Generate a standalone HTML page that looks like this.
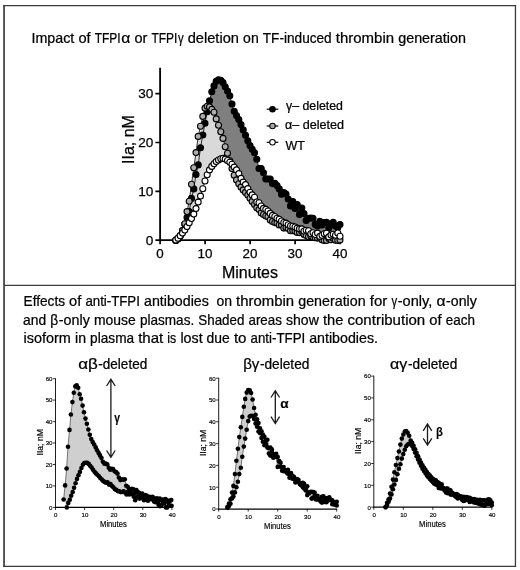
<!DOCTYPE html>
<html lang="en"><head><meta charset="utf-8"><title>TFPI thrombin generation</title>
<style>html,body{margin:0;padding:0;background:#fff}body{width:520px;height:570px;overflow:hidden}svg{display:block}text{font-family:"Liberation Sans",sans-serif;fill:#000}.c{font-family:"Liberation Sans","DejaVu Sans",sans-serif;stroke:#000;stroke-width:.24px}.t{stroke-width:.12px}.s{stroke:#000;stroke-width:.16px}.b{stroke:#000;stroke-width:.25px}</style></head><body>
<svg width="520" height="570" viewBox="0 0 520 570">
<rect x="0" y="0" width="520" height="570" fill="#fff"/>
<path d="M4.05 4.9V566.9" stroke="#505056" stroke-width="1.9" fill="none"/>
<path d="M3.2 5.5H516.1M4 285.45H515.5M3.2 566.25H516.1" stroke="#3a3a42" stroke-width="1.25" fill="none"/>
<path d="M515.45 4.9V566.9" stroke="#3a3a42" stroke-width="1.3" fill="none"/>
<text class="c" y="42.8" font-size="14.3"><tspan x="31.5" textLength="42.8" lengthAdjust="spacingAndGlyphs">Impact</tspan> <tspan x="78.4" textLength="12.2" lengthAdjust="spacingAndGlyphs">of</tspan> <tspan x="94.7" textLength="25.9" lengthAdjust="spacingAndGlyphs">TFPI</tspan><tspan x="121.2" textLength="9.1" lengthAdjust="spacingAndGlyphs">α</tspan> <tspan x="134.4" textLength="12.9" lengthAdjust="spacingAndGlyphs">or</tspan> <tspan x="151.4" textLength="25.9" lengthAdjust="spacingAndGlyphs">TFPI</tspan><tspan x="177.9" textLength="5.7" lengthAdjust="spacingAndGlyphs">γ</tspan> <tspan x="187.7" textLength="51.3" lengthAdjust="spacingAndGlyphs">deletion</tspan> <tspan x="243.1" textLength="15.6" lengthAdjust="spacingAndGlyphs">on</tspan> <tspan x="262.8" textLength="68.9" lengthAdjust="spacingAndGlyphs">TF-induced</tspan> <tspan x="335.8" textLength="58.3" lengthAdjust="spacingAndGlyphs">thrombin</tspan> <tspan x="398.2" textLength="67.8" lengthAdjust="spacingAndGlyphs">generation</tspan></text>
<polygon points="175.8,240.4 178.0,238.4 180.2,235.5 182.5,230.6 184.8,224.2 187.0,217.6 189.2,211.5 191.5,198.4 193.8,188.9 196.0,174.5 198.2,164.9 200.5,147.7 202.8,135.0 205.0,123.3 207.2,111.7 209.5,100.8 211.8,91.8 214.0,85.9 216.2,81.3 218.5,79.8 220.8,80.2 223.0,82.5 225.2,86.8 227.5,91.0 229.8,95.7 232.0,104.0 234.2,111.2 236.5,115.5 238.8,119.6 241.0,124.6 243.2,129.9 245.5,135.2 247.8,140.8 250.0,145.6 252.2,149.2 254.5,152.7 256.8,159.2 259.0,168.5 261.2,168.6 263.5,172.8 265.8,178.9 268.0,179.0 270.2,179.0 272.5,183.6 274.8,183.3 277.0,185.6 279.2,188.9 281.5,194.2 283.8,192.5 286.0,194.1 288.2,199.1 290.5,205.9 292.8,201.5 295.0,208.4 297.2,204.6 299.5,214.4 301.8,208.0 304.0,213.6 306.2,220.5 308.5,218.2 310.8,218.0 313.0,218.3 315.2,224.6 317.5,226.0 319.8,221.4 322.0,224.9 324.2,222.5 326.5,222.3 328.8,227.9 331.0,224.0 333.2,222.2 335.5,226.0 337.8,227.5 340.0,224.5 340.0,236.3 337.8,233.0 335.5,235.2 333.2,234.2 331.0,235.1 328.8,236.9 326.5,233.3 324.2,233.7 322.0,235.3 319.8,236.4 317.5,233.1 315.2,234.5 313.0,232.7 310.8,233.8 308.5,230.8 306.2,230.2 304.0,231.0 301.8,228.9 299.5,228.9 297.2,228.1 295.0,227.0 292.8,226.2 290.5,226.0 288.2,224.7 286.0,223.1 283.8,222.5 281.5,221.0 279.2,219.2 277.0,218.2 274.8,216.5 272.5,215.4 270.2,213.4 268.0,211.0 265.8,209.4 263.5,208.4 261.2,206.0 259.0,202.8 256.8,202.0 254.5,197.2 252.2,194.9 250.0,192.3 247.8,188.6 245.5,184.6 243.2,182.1 241.0,178.4 238.8,173.6 236.5,169.9 234.2,167.1 232.0,164.3 229.8,162.2 227.5,160.5 225.2,159.1 223.0,158.4 220.8,158.8 218.5,160.0 216.2,161.6 214.0,163.7 211.8,166.4 209.5,169.9 207.2,174.8 205.0,181.0 202.8,188.8 200.5,196.1 198.2,202.1 196.0,208.6 193.8,214.1 191.5,218.5 189.2,222.7 187.0,226.6 184.8,230.0 182.5,233.1 180.2,235.8 178.0,238.2 175.8,240.1" fill="#7f7f7f"/>
<polygon points="175.8,240.4 178.0,238.9 180.2,236.0 182.5,230.6 184.8,223.8 187.0,211.6 189.2,201.2 191.5,184.3 193.8,167.7 196.0,152.6 198.2,136.4 200.5,126.2 202.8,116.4 205.0,108.1 207.2,106.3 209.5,106.9 211.8,109.4 214.0,112.3 216.2,118.9 218.5,125.2 220.8,131.7 223.0,138.4 225.2,146.7 227.5,153.3 229.8,160.8 232.0,168.6 234.2,175.2 236.5,179.9 238.8,183.8 241.0,187.1 243.2,189.9 245.5,192.4 247.8,195.1 250.0,198.3 252.2,201.4 254.5,204.5 256.8,207.8 259.0,209.6 261.2,212.9 263.5,214.5 265.8,216.0 268.0,216.8 270.2,219.9 272.5,221.5 274.8,222.6 277.0,222.9 279.2,224.9 281.5,225.1 283.8,228.1 286.0,227.4 288.2,228.4 290.5,230.8 292.8,230.7 295.0,230.9 297.2,232.4 299.5,232.6 301.8,231.6 304.0,234.4 306.2,235.6 308.5,236.7 310.8,235.9 313.0,237.3 315.2,237.7 317.5,238.1 319.8,237.7 322.0,239.7 324.2,240.4 326.5,240.4 328.8,238.4 331.0,239.7 333.2,238.5 335.5,240.2 337.8,240.4 340.0,239.9 340.0,236.3 337.8,233.0 335.5,235.2 333.2,234.2 331.0,235.1 328.8,236.9 326.5,233.3 324.2,233.7 322.0,235.3 319.8,236.4 317.5,233.1 315.2,234.5 313.0,232.7 310.8,233.8 308.5,230.8 306.2,230.2 304.0,231.0 301.8,228.9 299.5,228.9 297.2,228.1 295.0,227.0 292.8,226.2 290.5,226.0 288.2,224.7 286.0,223.1 283.8,222.5 281.5,221.0 279.2,219.2 277.0,218.2 274.8,216.5 272.5,215.4 270.2,213.4 268.0,211.0 265.8,209.4 263.5,208.4 261.2,206.0 259.0,202.8 256.8,202.0 254.5,197.2 252.2,194.9 250.0,192.3 247.8,188.6 245.5,184.6 243.2,182.1 241.0,178.4 238.8,173.6 236.5,169.9 234.2,167.1 232.0,164.3 229.8,162.2 227.5,160.5 225.2,159.1 223.0,158.4 220.8,158.8 218.5,160.0 216.2,161.6 214.0,163.7 211.8,166.4 209.5,169.9 207.2,174.8 205.0,181.0 202.8,188.8 200.5,196.1 198.2,202.1 196.0,208.6 193.8,214.1 191.5,218.5 189.2,222.7 187.0,226.6 184.8,230.0 182.5,233.1 180.2,235.8 178.0,238.2 175.8,240.1" fill="#d9d9d9"/>
<path d="M160.1 67.7V240.1H340.8" fill="none" stroke="#000" stroke-width="1.8" stroke-linejoin="miter"/>
<path d="M155.4 240.1H160.2M155.4 191.3H160.2M155.4 142.5H160.2M155.4 93.7H160.2M160.1 240.1V244.3M205.1 240.1V244.3M250.1 240.1V244.3M295.1 240.1V244.3M340.1 240.1V244.3" stroke="#000" stroke-width="1.7" fill="none"/>
<text class="b" x="153.3" y="244.7" font-size="13.6" text-anchor="end">0</text>
<text class="b" x="153.3" y="195.9" font-size="13.6" text-anchor="end">10</text>
<text class="b" x="153.3" y="147.1" font-size="13.6" text-anchor="end">20</text>
<text class="b" x="153.3" y="98.3" font-size="13.6" text-anchor="end">30</text>
<text class="b" x="160.0" y="258.4" font-size="13.4" text-anchor="middle">0</text>
<text class="b" x="205.0" y="258.4" font-size="13.4" text-anchor="middle">10</text>
<text class="b" x="250.0" y="258.4" font-size="13.4" text-anchor="middle">20</text>
<text class="b" x="295.0" y="258.4" font-size="13.4" text-anchor="middle">30</text>
<text class="b" x="340.0" y="258.4" font-size="13.4" text-anchor="middle">40</text>
<text class="b" x="250" y="277.8" font-size="16" text-anchor="middle">Minutes</text>
<text class="b" transform="translate(133.6 139.5) rotate(-90)" font-size="16" text-anchor="middle">IIa; nM</text>
<polyline points="175.8,240.4 178.0,238.4 180.2,235.5 182.5,230.6 184.8,224.2 187.0,217.6 189.2,211.5 191.5,198.4 193.8,188.9 196.0,174.5 198.2,164.9 200.5,147.7 202.8,135.0 205.0,123.3 207.2,111.7 209.5,100.8 211.8,91.8 214.0,85.9 216.2,81.3 218.5,79.8 220.8,80.2 223.0,82.5 225.2,86.8 227.5,91.0 229.8,95.7 232.0,104.0 234.2,111.2 236.5,115.5 238.8,119.6 241.0,124.6 243.2,129.9 245.5,135.2 247.8,140.8 250.0,145.6 252.2,149.2 254.5,152.7 256.8,159.2 259.0,168.5 261.2,168.6 263.5,172.8 265.8,178.9 268.0,179.0 270.2,179.0 272.5,183.6 274.8,183.3 277.0,185.6 279.2,188.9 281.5,194.2 283.8,192.5 286.0,194.1 288.2,199.1 290.5,205.9 292.8,201.5 295.0,208.4 297.2,204.6 299.5,214.4 301.8,208.0 304.0,213.6 306.2,220.5 308.5,218.2 310.8,218.0 313.0,218.3 315.2,224.6 317.5,226.0 319.8,221.4 322.0,224.9 324.2,222.5 326.5,222.3 328.8,227.9 331.0,224.0 333.2,222.2 335.5,226.0 337.8,227.5 340.0,224.5" fill="none" stroke="#000" stroke-width="0.8"/>
<g fill="#000" stroke="#000" stroke-width="1.1"><circle cx="175.8" cy="240.4" r="3.0"/><circle cx="178.0" cy="238.4" r="3.0"/><circle cx="180.2" cy="235.5" r="3.0"/><circle cx="182.5" cy="230.6" r="3.0"/><circle cx="184.8" cy="224.2" r="3.0"/><circle cx="187.0" cy="217.6" r="3.0"/><circle cx="189.2" cy="211.5" r="3.0"/><circle cx="191.5" cy="198.4" r="3.0"/><circle cx="193.8" cy="188.9" r="3.0"/><circle cx="196.0" cy="174.5" r="3.0"/><circle cx="198.2" cy="164.9" r="3.0"/><circle cx="200.5" cy="147.7" r="3.0"/><circle cx="202.8" cy="135.0" r="3.0"/><circle cx="205.0" cy="123.3" r="3.0"/><circle cx="207.2" cy="111.7" r="3.0"/><circle cx="209.5" cy="100.8" r="3.0"/><circle cx="211.8" cy="91.8" r="3.0"/><circle cx="214.0" cy="85.9" r="3.0"/><circle cx="216.2" cy="81.3" r="3.0"/><circle cx="218.5" cy="79.8" r="3.0"/><circle cx="220.8" cy="80.2" r="3.0"/><circle cx="223.0" cy="82.5" r="3.0"/><circle cx="225.2" cy="86.8" r="3.0"/><circle cx="227.5" cy="91.0" r="3.0"/><circle cx="229.8" cy="95.7" r="3.0"/><circle cx="232.0" cy="104.0" r="3.0"/><circle cx="234.2" cy="111.2" r="3.0"/><circle cx="236.5" cy="115.5" r="3.0"/><circle cx="238.8" cy="119.6" r="3.0"/><circle cx="241.0" cy="124.6" r="3.0"/><circle cx="243.2" cy="129.9" r="3.0"/><circle cx="245.5" cy="135.2" r="3.0"/><circle cx="247.8" cy="140.8" r="3.0"/><circle cx="250.0" cy="145.6" r="3.0"/><circle cx="252.2" cy="149.2" r="3.0"/><circle cx="254.5" cy="152.7" r="3.0"/><circle cx="256.8" cy="159.2" r="3.0"/><circle cx="259.0" cy="168.5" r="3.0"/><circle cx="261.2" cy="168.6" r="3.0"/><circle cx="263.5" cy="172.8" r="3.0"/><circle cx="265.8" cy="178.9" r="3.0"/><circle cx="268.0" cy="179.0" r="3.0"/><circle cx="270.2" cy="179.0" r="3.0"/><circle cx="272.5" cy="183.6" r="3.0"/><circle cx="274.8" cy="183.3" r="3.0"/><circle cx="277.0" cy="185.6" r="3.0"/><circle cx="279.2" cy="188.9" r="3.0"/><circle cx="281.5" cy="194.2" r="3.0"/><circle cx="283.8" cy="192.5" r="3.0"/><circle cx="286.0" cy="194.1" r="3.0"/><circle cx="288.2" cy="199.1" r="3.0"/><circle cx="290.5" cy="205.9" r="3.0"/><circle cx="292.8" cy="201.5" r="3.0"/><circle cx="295.0" cy="208.4" r="3.0"/><circle cx="297.2" cy="204.6" r="3.0"/><circle cx="299.5" cy="214.4" r="3.0"/><circle cx="301.8" cy="208.0" r="3.0"/><circle cx="304.0" cy="213.6" r="3.0"/><circle cx="306.2" cy="220.5" r="3.0"/><circle cx="308.5" cy="218.2" r="3.0"/><circle cx="310.8" cy="218.0" r="3.0"/><circle cx="313.0" cy="218.3" r="3.0"/><circle cx="315.2" cy="224.6" r="3.0"/><circle cx="317.5" cy="226.0" r="3.0"/><circle cx="319.8" cy="221.4" r="3.0"/><circle cx="322.0" cy="224.9" r="3.0"/><circle cx="324.2" cy="222.5" r="3.0"/><circle cx="326.5" cy="222.3" r="3.0"/><circle cx="328.8" cy="227.9" r="3.0"/><circle cx="331.0" cy="224.0" r="3.0"/><circle cx="333.2" cy="222.2" r="3.0"/><circle cx="335.5" cy="226.0" r="3.0"/><circle cx="337.8" cy="227.5" r="3.0"/><circle cx="340.0" cy="224.5" r="3.0"/></g>
<polyline points="175.8,240.4 178.0,238.9 180.2,236.0 182.5,230.6 184.8,223.8 187.0,211.6 189.2,201.2 191.5,184.3 193.8,167.7 196.0,152.6 198.2,136.4 200.5,126.2 202.8,116.4 205.0,108.1 207.2,106.3 209.5,106.9 211.8,109.4 214.0,112.3 216.2,118.9 218.5,125.2 220.8,131.7 223.0,138.4 225.2,146.7 227.5,153.3 229.8,160.8 232.0,168.6 234.2,175.2 236.5,179.9 238.8,183.8 241.0,187.1 243.2,189.9 245.5,192.4 247.8,195.1 250.0,198.3 252.2,201.4 254.5,204.5 256.8,207.8 259.0,209.6 261.2,212.9 263.5,214.5 265.8,216.0 268.0,216.8 270.2,219.9 272.5,221.5 274.8,222.6 277.0,222.9 279.2,224.9 281.5,225.1 283.8,228.1 286.0,227.4 288.2,228.4 290.5,230.8 292.8,230.7 295.0,230.9 297.2,232.4 299.5,232.6 301.8,231.6 304.0,234.4 306.2,235.6 308.5,236.7 310.8,235.9 313.0,237.3 315.2,237.7 317.5,238.1 319.8,237.7 322.0,239.7 324.2,240.4 326.5,240.4 328.8,238.4 331.0,239.7 333.2,238.5 335.5,240.2 337.8,240.4 340.0,239.9" fill="none" stroke="#000" stroke-width="0.8"/>
<g fill="#adadad" stroke="#000" stroke-width="1.1"><circle cx="175.8" cy="240.4" r="3.0"/><circle cx="178.0" cy="238.9" r="3.0"/><circle cx="180.2" cy="236.0" r="3.0"/><circle cx="182.5" cy="230.6" r="3.0"/><circle cx="184.8" cy="223.8" r="3.0"/><circle cx="187.0" cy="211.6" r="3.0"/><circle cx="189.2" cy="201.2" r="3.0"/><circle cx="191.5" cy="184.3" r="3.0"/><circle cx="193.8" cy="167.7" r="3.0"/><circle cx="196.0" cy="152.6" r="3.0"/><circle cx="198.2" cy="136.4" r="3.0"/><circle cx="200.5" cy="126.2" r="3.0"/><circle cx="202.8" cy="116.4" r="3.0"/><circle cx="205.0" cy="108.1" r="3.0"/><circle cx="207.2" cy="106.3" r="3.0"/><circle cx="209.5" cy="106.9" r="3.0"/><circle cx="211.8" cy="109.4" r="3.0"/><circle cx="214.0" cy="112.3" r="3.0"/><circle cx="216.2" cy="118.9" r="3.0"/><circle cx="218.5" cy="125.2" r="3.0"/><circle cx="220.8" cy="131.7" r="3.0"/><circle cx="223.0" cy="138.4" r="3.0"/><circle cx="225.2" cy="146.7" r="3.0"/><circle cx="227.5" cy="153.3" r="3.0"/><circle cx="229.8" cy="160.8" r="3.0"/><circle cx="232.0" cy="168.6" r="3.0"/><circle cx="234.2" cy="175.2" r="3.0"/><circle cx="236.5" cy="179.9" r="3.0"/><circle cx="238.8" cy="183.8" r="3.0"/><circle cx="241.0" cy="187.1" r="3.0"/><circle cx="243.2" cy="189.9" r="3.0"/><circle cx="245.5" cy="192.4" r="3.0"/><circle cx="247.8" cy="195.1" r="3.0"/><circle cx="250.0" cy="198.3" r="3.0"/><circle cx="252.2" cy="201.4" r="3.0"/><circle cx="254.5" cy="204.5" r="3.0"/><circle cx="256.8" cy="207.8" r="3.0"/><circle cx="259.0" cy="209.6" r="3.0"/><circle cx="261.2" cy="212.9" r="3.0"/><circle cx="263.5" cy="214.5" r="3.0"/><circle cx="265.8" cy="216.0" r="3.0"/><circle cx="268.0" cy="216.8" r="3.0"/><circle cx="270.2" cy="219.9" r="3.0"/><circle cx="272.5" cy="221.5" r="3.0"/><circle cx="274.8" cy="222.6" r="3.0"/><circle cx="277.0" cy="222.9" r="3.0"/><circle cx="279.2" cy="224.9" r="3.0"/><circle cx="281.5" cy="225.1" r="3.0"/><circle cx="283.8" cy="228.1" r="3.0"/><circle cx="286.0" cy="227.4" r="3.0"/><circle cx="288.2" cy="228.4" r="3.0"/><circle cx="290.5" cy="230.8" r="3.0"/><circle cx="292.8" cy="230.7" r="3.0"/><circle cx="295.0" cy="230.9" r="3.0"/><circle cx="297.2" cy="232.4" r="3.0"/><circle cx="299.5" cy="232.6" r="3.0"/><circle cx="301.8" cy="231.6" r="3.0"/><circle cx="304.0" cy="234.4" r="3.0"/><circle cx="306.2" cy="235.6" r="3.0"/><circle cx="308.5" cy="236.7" r="3.0"/><circle cx="310.8" cy="235.9" r="3.0"/><circle cx="313.0" cy="237.3" r="3.0"/><circle cx="315.2" cy="237.7" r="3.0"/><circle cx="317.5" cy="238.1" r="3.0"/><circle cx="319.8" cy="237.7" r="3.0"/><circle cx="322.0" cy="239.7" r="3.0"/><circle cx="324.2" cy="240.4" r="3.0"/><circle cx="326.5" cy="240.4" r="3.0"/><circle cx="328.8" cy="238.4" r="3.0"/><circle cx="331.0" cy="239.7" r="3.0"/><circle cx="333.2" cy="238.5" r="3.0"/><circle cx="335.5" cy="240.2" r="3.0"/><circle cx="337.8" cy="240.4" r="3.0"/><circle cx="340.0" cy="239.9" r="3.0"/></g>
<polyline points="175.8,240.1 178.0,238.2 180.2,235.8 182.5,233.1 184.8,230.0 187.0,226.6 189.2,222.7 191.5,218.5 193.8,214.1 196.0,208.6 198.2,202.1 200.5,196.1 202.8,188.8 205.0,181.0 207.2,174.8 209.5,169.9 211.8,166.4 214.0,163.7 216.2,161.6 218.5,160.0 220.8,158.8 223.0,158.4 225.2,159.1 227.5,160.5 229.8,162.2 232.0,164.3 234.2,167.1 236.5,169.9 238.8,173.6 241.0,178.4 243.2,182.1 245.5,184.6 247.8,188.6 250.0,192.3 252.2,194.9 254.5,197.2 256.8,202.0 259.0,202.8 261.2,206.0 263.5,208.4 265.8,209.4 268.0,211.0 270.2,213.4 272.5,215.4 274.8,216.5 277.0,218.2 279.2,219.2 281.5,221.0 283.8,222.5 286.0,223.1 288.2,224.7 290.5,226.0 292.8,226.2 295.0,227.0 297.2,228.1 299.5,228.9 301.8,228.9 304.0,231.0 306.2,230.2 308.5,230.8 310.8,233.8 313.0,232.7 315.2,234.5 317.5,233.1 319.8,236.4 322.0,235.3 324.2,233.7 326.5,233.3 328.8,236.9 331.0,235.1 333.2,234.2 335.5,235.2 337.8,233.0 340.0,236.3" fill="none" stroke="#000" stroke-width="0.8"/>
<g fill="#fff" stroke="#000" stroke-width="1.1"><circle cx="175.8" cy="240.1" r="3.0"/><circle cx="178.0" cy="238.2" r="3.0"/><circle cx="180.2" cy="235.8" r="3.0"/><circle cx="182.5" cy="233.1" r="3.0"/><circle cx="184.8" cy="230.0" r="3.0"/><circle cx="187.0" cy="226.6" r="3.0"/><circle cx="189.2" cy="222.7" r="3.0"/><circle cx="191.5" cy="218.5" r="3.0"/><circle cx="193.8" cy="214.1" r="3.0"/><circle cx="196.0" cy="208.6" r="3.0"/><circle cx="198.2" cy="202.1" r="3.0"/><circle cx="200.5" cy="196.1" r="3.0"/><circle cx="202.8" cy="188.8" r="3.0"/><circle cx="205.0" cy="181.0" r="3.0"/><circle cx="207.2" cy="174.8" r="3.0"/><circle cx="209.5" cy="169.9" r="3.0"/><circle cx="211.8" cy="166.4" r="3.0"/><circle cx="214.0" cy="163.7" r="3.0"/><circle cx="216.2" cy="161.6" r="3.0"/><circle cx="218.5" cy="160.0" r="3.0"/><circle cx="220.8" cy="158.8" r="3.0"/><circle cx="223.0" cy="158.4" r="3.0"/><circle cx="225.2" cy="159.1" r="3.0"/><circle cx="227.5" cy="160.5" r="3.0"/><circle cx="229.8" cy="162.2" r="3.0"/><circle cx="232.0" cy="164.3" r="3.0"/><circle cx="234.2" cy="167.1" r="3.0"/><circle cx="236.5" cy="169.9" r="3.0"/><circle cx="238.8" cy="173.6" r="3.0"/><circle cx="241.0" cy="178.4" r="3.0"/><circle cx="243.2" cy="182.1" r="3.0"/><circle cx="245.5" cy="184.6" r="3.0"/><circle cx="247.8" cy="188.6" r="3.0"/><circle cx="250.0" cy="192.3" r="3.0"/><circle cx="252.2" cy="194.9" r="3.0"/><circle cx="254.5" cy="197.2" r="3.0"/><circle cx="256.8" cy="202.0" r="3.0"/><circle cx="259.0" cy="202.8" r="3.0"/><circle cx="261.2" cy="206.0" r="3.0"/><circle cx="263.5" cy="208.4" r="3.0"/><circle cx="265.8" cy="209.4" r="3.0"/><circle cx="268.0" cy="211.0" r="3.0"/><circle cx="270.2" cy="213.4" r="3.0"/><circle cx="272.5" cy="215.4" r="3.0"/><circle cx="274.8" cy="216.5" r="3.0"/><circle cx="277.0" cy="218.2" r="3.0"/><circle cx="279.2" cy="219.2" r="3.0"/><circle cx="281.5" cy="221.0" r="3.0"/><circle cx="283.8" cy="222.5" r="3.0"/><circle cx="286.0" cy="223.1" r="3.0"/><circle cx="288.2" cy="224.7" r="3.0"/><circle cx="290.5" cy="226.0" r="3.0"/><circle cx="292.8" cy="226.2" r="3.0"/><circle cx="295.0" cy="227.0" r="3.0"/><circle cx="297.2" cy="228.1" r="3.0"/><circle cx="299.5" cy="228.9" r="3.0"/><circle cx="301.8" cy="228.9" r="3.0"/><circle cx="304.0" cy="231.0" r="3.0"/><circle cx="306.2" cy="230.2" r="3.0"/><circle cx="308.5" cy="230.8" r="3.0"/><circle cx="310.8" cy="233.8" r="3.0"/><circle cx="313.0" cy="232.7" r="3.0"/><circle cx="315.2" cy="234.5" r="3.0"/><circle cx="317.5" cy="233.1" r="3.0"/><circle cx="319.8" cy="236.4" r="3.0"/><circle cx="322.0" cy="235.3" r="3.0"/><circle cx="324.2" cy="233.7" r="3.0"/><circle cx="326.5" cy="233.3" r="3.0"/><circle cx="328.8" cy="236.9" r="3.0"/><circle cx="331.0" cy="235.1" r="3.0"/><circle cx="333.2" cy="234.2" r="3.0"/><circle cx="335.5" cy="235.2" r="3.0"/><circle cx="337.8" cy="233.0" r="3.0"/><circle cx="340.0" cy="236.3" r="3.0"/></g>
<line x1="266.7" y1="109.2" x2="278.3" y2="109.2" stroke="#000" stroke-width="1.2"/>
<circle cx="272.5" cy="109.2" r="2.75" fill="#000" stroke="#000" stroke-width="1.1"/>
<line x1="266.7" y1="126" x2="278.3" y2="126" stroke="#000" stroke-width="1.2"/>
<circle cx="272.5" cy="126" r="2.75" fill="#a6a6a6" stroke="#000" stroke-width="1.1"/>
<line x1="266.7" y1="142.3" x2="278.3" y2="142.3" stroke="#000" stroke-width="1.2"/>
<circle cx="272.5" cy="142.3" r="2.75" fill="#fff" stroke="#000" stroke-width="1.1"/>
<text class="c" x="286" y="109.6" font-size="12" textLength="57" lengthAdjust="spacingAndGlyphs">γ– deleted</text>
<text class="c" x="285" y="129.4" font-size="12" textLength="59" lengthAdjust="spacingAndGlyphs">α– deleted</text>
<text class="c" x="285.4" y="149.6" font-size="12" textLength="19.4" lengthAdjust="spacingAndGlyphs">WT</text>
<text class="c" y="305.9" font-size="14.3"><tspan x="23.5" textLength="41.6" lengthAdjust="spacingAndGlyphs">Effects</tspan> <tspan x="69.1" textLength="12.2" lengthAdjust="spacingAndGlyphs">of</tspan> <tspan x="85.4" textLength="54.5" lengthAdjust="spacingAndGlyphs">anti-TFPI</tspan> <tspan x="144.0" textLength="64.9" lengthAdjust="spacingAndGlyphs">antibodies</tspan> <tspan x="216.5" textLength="15.6" lengthAdjust="spacingAndGlyphs">on</tspan> <tspan x="236.1" textLength="58.0" lengthAdjust="spacingAndGlyphs">thrombin</tspan> <tspan x="298.2" textLength="67.5" lengthAdjust="spacingAndGlyphs">generation</tspan> <tspan x="369.8" textLength="17.5" lengthAdjust="spacingAndGlyphs">for</tspan> <tspan x="391.4" textLength="5.7" lengthAdjust="spacingAndGlyphs">γ</tspan><tspan x="397.7" textLength="34.6" lengthAdjust="spacingAndGlyphs">-only,</tspan> <tspan x="436.4" textLength="9.1" lengthAdjust="spacingAndGlyphs">α</tspan><tspan x="446.1" textLength="30.7" lengthAdjust="spacingAndGlyphs">-only</tspan></text>
<text class="c" y="324.6" font-size="14.3"><tspan x="23.1" textLength="23.1" lengthAdjust="spacingAndGlyphs">and</tspan> <tspan x="50.3" textLength="7.9" lengthAdjust="spacingAndGlyphs">β</tspan><tspan x="58.8" textLength="31.0" lengthAdjust="spacingAndGlyphs">-only</tspan> <tspan x="93.9" textLength="41.8" lengthAdjust="spacingAndGlyphs">mouse</tspan> <tspan x="139.9" textLength="54.3" lengthAdjust="spacingAndGlyphs">plasmas.</tspan> <tspan x="198.3" textLength="46.1" lengthAdjust="spacingAndGlyphs">Shaded</tspan> <tspan x="248.5" textLength="33.4" lengthAdjust="spacingAndGlyphs">areas</tspan> <tspan x="286.0" textLength="32.8" lengthAdjust="spacingAndGlyphs">show</tspan> <tspan x="322.9" textLength="20.4" lengthAdjust="spacingAndGlyphs">the</tspan> <tspan x="347.5" textLength="77.7" lengthAdjust="spacingAndGlyphs">contribution</tspan> <tspan x="429.3" textLength="12.3" lengthAdjust="spacingAndGlyphs">of</tspan> <tspan x="445.7" textLength="29.2" lengthAdjust="spacingAndGlyphs">each</tspan></text>
<text class="c" y="343.1" font-size="14.3"><tspan x="23.5" textLength="47.4" lengthAdjust="spacingAndGlyphs">isoform</tspan> <tspan x="75.0" textLength="11.0" lengthAdjust="spacingAndGlyphs">in</tspan> <tspan x="90.1" textLength="44.0" lengthAdjust="spacingAndGlyphs">plasma</tspan> <tspan x="138.2" textLength="25.1" lengthAdjust="spacingAndGlyphs">that</tspan> <tspan x="167.3" textLength="8.9" lengthAdjust="spacingAndGlyphs">is</tspan> <tspan x="180.4" textLength="22.2" lengthAdjust="spacingAndGlyphs">lost</tspan> <tspan x="206.6" textLength="23.2" lengthAdjust="spacingAndGlyphs">due</tspan> <tspan x="233.9" textLength="12.6" lengthAdjust="spacingAndGlyphs">to</tspan> <tspan x="250.6" textLength="54.6" lengthAdjust="spacingAndGlyphs">anti-TFPI</tspan> <tspan x="309.2" textLength="68.8" lengthAdjust="spacingAndGlyphs">antibodies.</tspan></text>
<polygon points="63.6,499.5 65.1,485.4 66.6,468.5 68.0,446.8 69.5,429.9 70.9,414.5 72.4,402.1 73.8,392.7 75.3,386.4 76.7,385.3 78.2,387.8 79.7,394.2 81.1,398.7 82.6,405.6 84.0,412.2 85.5,418.6 86.9,423.8 88.4,429.5 89.8,434.8 91.3,439.1 92.7,442.1 94.2,444.5 95.7,447.4 97.1,450.3 98.6,452.9 100.0,455.4 101.5,458.1 102.9,461.8 104.4,463.8 105.8,463.6 107.3,464.4 108.8,467.7 110.2,469.7 111.7,468.9 113.1,469.0 114.6,471.2 116.0,472.1 117.5,473.6 118.9,477.5 120.4,480.1 121.8,479.3 123.3,479.7 124.8,479.3 126.2,485.8 127.7,486.7 129.1,488.7 130.6,491.7 132.0,488.9 133.5,489.2 134.9,493.1 136.4,490.0 137.9,492.0 139.3,493.1 140.8,494.1 142.2,493.5 143.7,498.6 145.1,495.1 146.6,495.6 148.0,500.8 149.5,496.9 150.9,498.5 152.4,496.7 153.9,499.4 155.3,498.9 156.8,498.4 158.2,501.2 159.7,498.6 161.1,500.3 162.6,499.5 164.0,501.9 165.5,499.0 167.0,500.3 168.4,502.2 169.9,500.9 171.3,500.0 171.6,505.7 170.2,505.7 168.7,505.6 167.2,507.4 165.8,507.4 164.3,503.2 162.9,503.1 161.4,505.2 160.0,506.2 158.5,504.7 157.1,501.5 155.6,502.3 154.1,501.6 152.7,497.3 151.2,499.2 149.8,498.7 148.3,498.4 146.9,496.9 145.4,497.2 144.0,500.2 142.5,496.9 141.1,497.5 139.6,498.6 138.1,496.3 136.7,497.6 135.2,500.2 133.8,496.7 132.3,494.2 130.9,493.6 129.4,494.4 128.0,491.9 126.5,494.4 125.0,492.6 123.6,491.3 122.1,492.0 120.7,492.1 119.2,491.3 117.8,491.1 116.3,489.9 114.9,489.3 113.4,487.3 112.0,486.1 110.5,484.1 109.0,484.6 107.6,482.2 106.1,482.7 104.7,481.9 103.2,481.1 101.8,479.5 100.3,478.1 98.9,476.3 97.4,474.7 95.9,473.4 94.5,471.8 93.0,469.8 91.6,467.5 90.1,465.7 88.7,463.9 87.2,462.9 85.8,462.7 84.3,463.0 82.9,464.8 81.4,468.0 79.9,471.9 78.5,475.2 77.0,478.9 75.6,483.2 74.1,487.8 72.7,492.1 71.2,495.8 69.8,499.7 68.3,502.9 66.8,507.4" fill="#cfcfcf"/>
<path d="M55.5 378.3V508.0" fill="none" stroke="#111" stroke-width="0.95"/>
<path d="M55.1 507.4H172.3" fill="none" stroke="#000" stroke-width="1.25"/>
<path d="M52.9 507.4H55.5M52.9 485.9H55.5M52.9 464.5H55.5M52.9 443.0H55.5M52.9 421.6H55.5M52.9 400.1H55.5M52.9 378.7H55.5M55.5 507.4V510.0M84.6 507.4V510.0M113.7 507.4V510.0M142.8 507.4V510.0M171.9 507.4V510.0" stroke="#000" stroke-width="0.8" fill="none"/>
<text class="s" x="52.5" y="509.7" font-size="6.1" text-anchor="end">0</text>
<text class="s" x="52.5" y="488.2" font-size="6.1" text-anchor="end">10</text>
<text class="s" x="52.5" y="466.8" font-size="6.1" text-anchor="end">20</text>
<text class="s" x="52.5" y="445.3" font-size="6.1" text-anchor="end">30</text>
<text class="s" x="52.5" y="423.9" font-size="6.1" text-anchor="end">40</text>
<text class="s" x="52.5" y="402.4" font-size="6.1" text-anchor="end">50</text>
<text class="s" x="52.5" y="381.0" font-size="6.1" text-anchor="end">60</text>
<text class="s" x="55.8" y="517.1" font-size="6.1" text-anchor="middle">0</text>
<text class="s" x="84.9" y="517.1" font-size="6.1" text-anchor="middle">10</text>
<text class="s" x="114.0" y="517.1" font-size="6.1" text-anchor="middle">20</text>
<text class="s" x="143.1" y="517.1" font-size="6.1" text-anchor="middle">30</text>
<text class="s" x="172.2" y="517.1" font-size="6.1" text-anchor="middle">40</text>
<text class="s" x="100.0" y="527.2" font-size="8.7" textLength="26.8" lengthAdjust="spacingAndGlyphs">Minutes</text>
<text class="s" transform="translate(42.9 442.3) rotate(-90)" font-size="8.6" text-anchor="middle">IIa; nM</text>
<polyline points="63.6,499.5 65.1,485.4 66.6,468.5 68.0,446.8 69.5,429.9 70.9,414.5 72.4,402.1 73.8,392.7 75.3,386.4 76.7,385.3 78.2,387.8 79.7,394.2 81.1,398.7 82.6,405.6 84.0,412.2 85.5,418.6 86.9,423.8 88.4,429.5 89.8,434.8 91.3,439.1 92.7,442.1 94.2,444.5 95.7,447.4 97.1,450.3 98.6,452.9 100.0,455.4 101.5,458.1 102.9,461.8 104.4,463.8 105.8,463.6 107.3,464.4 108.8,467.7 110.2,469.7 111.7,468.9 113.1,469.0 114.6,471.2 116.0,472.1 117.5,473.6 118.9,477.5 120.4,480.1 121.8,479.3 123.3,479.7 124.8,479.3 126.2,485.8 127.7,486.7 129.1,488.7 130.6,491.7 132.0,488.9 133.5,489.2 134.9,493.1 136.4,490.0 137.9,492.0 139.3,493.1 140.8,494.1 142.2,493.5 143.7,498.6 145.1,495.1 146.6,495.6 148.0,500.8 149.5,496.9 150.9,498.5 152.4,496.7 153.9,499.4 155.3,498.9 156.8,498.4 158.2,501.2 159.7,498.6 161.1,500.3 162.6,499.5 164.0,501.9 165.5,499.0 167.0,500.3 168.4,502.2 169.9,500.9 171.3,500.0" fill="none" stroke="#000" stroke-width="0.5"/>
<g fill="#000"><circle cx="63.6" cy="499.5" r="2.3"/><circle cx="65.1" cy="485.4" r="2.3"/><circle cx="66.6" cy="468.5" r="2.3"/><circle cx="68.0" cy="446.8" r="2.3"/><circle cx="69.5" cy="429.9" r="2.3"/><circle cx="70.9" cy="414.5" r="2.3"/><circle cx="72.4" cy="402.1" r="2.3"/><circle cx="73.8" cy="392.7" r="2.3"/><circle cx="75.3" cy="386.4" r="2.3"/><circle cx="76.7" cy="385.3" r="2.3"/><circle cx="78.2" cy="387.8" r="2.3"/><circle cx="79.7" cy="394.2" r="2.3"/><circle cx="81.1" cy="398.7" r="2.3"/><circle cx="82.6" cy="405.6" r="2.3"/><circle cx="84.0" cy="412.2" r="2.3"/><circle cx="85.5" cy="418.6" r="2.3"/><circle cx="86.9" cy="423.8" r="2.3"/><circle cx="88.4" cy="429.5" r="2.3"/><circle cx="89.8" cy="434.8" r="2.3"/><circle cx="91.3" cy="439.1" r="2.3"/><circle cx="92.7" cy="442.1" r="2.3"/><circle cx="94.2" cy="444.5" r="2.3"/><circle cx="95.7" cy="447.4" r="2.3"/><circle cx="97.1" cy="450.3" r="2.3"/><circle cx="98.6" cy="452.9" r="2.3"/><circle cx="100.0" cy="455.4" r="2.3"/><circle cx="101.5" cy="458.1" r="2.3"/><circle cx="102.9" cy="461.8" r="2.3"/><circle cx="104.4" cy="463.8" r="2.3"/><circle cx="105.8" cy="463.6" r="2.3"/><circle cx="107.3" cy="464.4" r="2.3"/><circle cx="108.8" cy="467.7" r="2.3"/><circle cx="110.2" cy="469.7" r="2.3"/><circle cx="111.7" cy="468.9" r="2.3"/><circle cx="113.1" cy="469.0" r="2.3"/><circle cx="114.6" cy="471.2" r="2.3"/><circle cx="116.0" cy="472.1" r="2.3"/><circle cx="117.5" cy="473.6" r="2.3"/><circle cx="118.9" cy="477.5" r="2.3"/><circle cx="120.4" cy="480.1" r="2.3"/><circle cx="121.8" cy="479.3" r="2.3"/><circle cx="123.3" cy="479.7" r="2.3"/><circle cx="124.8" cy="479.3" r="2.3"/><circle cx="126.2" cy="485.8" r="2.3"/><circle cx="127.7" cy="486.7" r="2.3"/><circle cx="129.1" cy="488.7" r="2.3"/><circle cx="130.6" cy="491.7" r="2.3"/><circle cx="132.0" cy="488.9" r="2.3"/><circle cx="133.5" cy="489.2" r="2.3"/><circle cx="134.9" cy="493.1" r="2.3"/><circle cx="136.4" cy="490.0" r="2.3"/><circle cx="137.9" cy="492.0" r="2.3"/><circle cx="139.3" cy="493.1" r="2.3"/><circle cx="140.8" cy="494.1" r="2.3"/><circle cx="142.2" cy="493.5" r="2.3"/><circle cx="143.7" cy="498.6" r="2.3"/><circle cx="145.1" cy="495.1" r="2.3"/><circle cx="146.6" cy="495.6" r="2.3"/><circle cx="148.0" cy="500.8" r="2.3"/><circle cx="149.5" cy="496.9" r="2.3"/><circle cx="150.9" cy="498.5" r="2.3"/><circle cx="152.4" cy="496.7" r="2.3"/><circle cx="153.9" cy="499.4" r="2.3"/><circle cx="155.3" cy="498.9" r="2.3"/><circle cx="156.8" cy="498.4" r="2.3"/><circle cx="158.2" cy="501.2" r="2.3"/><circle cx="159.7" cy="498.6" r="2.3"/><circle cx="161.1" cy="500.3" r="2.3"/><circle cx="162.6" cy="499.5" r="2.3"/><circle cx="164.0" cy="501.9" r="2.3"/><circle cx="165.5" cy="499.0" r="2.3"/><circle cx="167.0" cy="500.3" r="2.3"/><circle cx="168.4" cy="502.2" r="2.3"/><circle cx="169.9" cy="500.9" r="2.3"/><circle cx="171.3" cy="500.0" r="2.3"/></g>
<polyline points="66.8,507.4 68.3,502.9 69.8,499.7 71.2,495.8 72.7,492.1 74.1,487.8 75.6,483.2 77.0,478.9 78.5,475.2 79.9,471.9 81.4,468.0 82.9,464.8 84.3,463.0 85.8,462.7 87.2,462.9 88.7,463.9 90.1,465.7 91.6,467.5 93.0,469.8 94.5,471.8 95.9,473.4 97.4,474.7 98.9,476.3 100.3,478.1 101.8,479.5 103.2,481.1 104.7,481.9 106.1,482.7 107.6,482.2 109.0,484.6 110.5,484.1 112.0,486.1 113.4,487.3 114.9,489.3 116.3,489.9 117.8,491.1 119.2,491.3 120.7,492.1 122.1,492.0 123.6,491.3 125.0,492.6 126.5,494.4 128.0,491.9 129.4,494.4 130.9,493.6 132.3,494.2 133.8,496.7 135.2,500.2 136.7,497.6 138.1,496.3 139.6,498.6 141.1,497.5 142.5,496.9 144.0,500.2 145.4,497.2 146.9,496.9 148.3,498.4 149.8,498.7 151.2,499.2 152.7,497.3 154.1,501.6 155.6,502.3 157.1,501.5 158.5,504.7 160.0,506.2 161.4,505.2 162.9,503.1 164.3,503.2 165.8,507.4 167.2,507.4 168.7,505.6 170.2,505.7 171.6,505.7" fill="none" stroke="#000" stroke-width="0.5"/>
<g fill="#000"><circle cx="66.8" cy="507.4" r="2.3"/><circle cx="68.3" cy="502.9" r="2.3"/><circle cx="69.8" cy="499.7" r="2.3"/><circle cx="71.2" cy="495.8" r="2.3"/><circle cx="72.7" cy="492.1" r="2.3"/><circle cx="74.1" cy="487.8" r="2.3"/><circle cx="75.6" cy="483.2" r="2.3"/><circle cx="77.0" cy="478.9" r="2.3"/><circle cx="78.5" cy="475.2" r="2.3"/><circle cx="79.9" cy="471.9" r="2.3"/><circle cx="81.4" cy="468.0" r="2.3"/><circle cx="82.9" cy="464.8" r="2.3"/><circle cx="84.3" cy="463.0" r="2.3"/><circle cx="85.8" cy="462.7" r="2.3"/><circle cx="87.2" cy="462.9" r="2.3"/><circle cx="88.7" cy="463.9" r="2.3"/><circle cx="90.1" cy="465.7" r="2.3"/><circle cx="91.6" cy="467.5" r="2.3"/><circle cx="93.0" cy="469.8" r="2.3"/><circle cx="94.5" cy="471.8" r="2.3"/><circle cx="95.9" cy="473.4" r="2.3"/><circle cx="97.4" cy="474.7" r="2.3"/><circle cx="98.9" cy="476.3" r="2.3"/><circle cx="100.3" cy="478.1" r="2.3"/><circle cx="101.8" cy="479.5" r="2.3"/><circle cx="103.2" cy="481.1" r="2.3"/><circle cx="104.7" cy="481.9" r="2.3"/><circle cx="106.1" cy="482.7" r="2.3"/><circle cx="107.6" cy="482.2" r="2.3"/><circle cx="109.0" cy="484.6" r="2.3"/><circle cx="110.5" cy="484.1" r="2.3"/><circle cx="112.0" cy="486.1" r="2.3"/><circle cx="113.4" cy="487.3" r="2.3"/><circle cx="114.9" cy="489.3" r="2.3"/><circle cx="116.3" cy="489.9" r="2.3"/><circle cx="117.8" cy="491.1" r="2.3"/><circle cx="119.2" cy="491.3" r="2.3"/><circle cx="120.7" cy="492.1" r="2.3"/><circle cx="122.1" cy="492.0" r="2.3"/><circle cx="123.6" cy="491.3" r="2.3"/><circle cx="125.0" cy="492.6" r="2.3"/><circle cx="126.5" cy="494.4" r="2.3"/><circle cx="128.0" cy="491.9" r="2.3"/><circle cx="129.4" cy="494.4" r="2.3"/><circle cx="130.9" cy="493.6" r="2.3"/><circle cx="132.3" cy="494.2" r="2.3"/><circle cx="133.8" cy="496.7" r="2.3"/><circle cx="135.2" cy="500.2" r="2.3"/><circle cx="136.7" cy="497.6" r="2.3"/><circle cx="138.1" cy="496.3" r="2.3"/><circle cx="139.6" cy="498.6" r="2.3"/><circle cx="141.1" cy="497.5" r="2.3"/><circle cx="142.5" cy="496.9" r="2.3"/><circle cx="144.0" cy="500.2" r="2.3"/><circle cx="145.4" cy="497.2" r="2.3"/><circle cx="146.9" cy="496.9" r="2.3"/><circle cx="148.3" cy="498.4" r="2.3"/><circle cx="149.8" cy="498.7" r="2.3"/><circle cx="151.2" cy="499.2" r="2.3"/><circle cx="152.7" cy="497.3" r="2.3"/><circle cx="154.1" cy="501.6" r="2.3"/><circle cx="155.6" cy="502.3" r="2.3"/><circle cx="157.1" cy="501.5" r="2.3"/><circle cx="158.5" cy="504.7" r="2.3"/><circle cx="160.0" cy="506.2" r="2.3"/><circle cx="161.4" cy="505.2" r="2.3"/><circle cx="162.9" cy="503.1" r="2.3"/><circle cx="164.3" cy="503.2" r="2.3"/><circle cx="165.8" cy="507.4" r="2.3"/><circle cx="167.2" cy="507.4" r="2.3"/><circle cx="168.7" cy="505.6" r="2.3"/><circle cx="170.2" cy="505.7" r="2.3"/><circle cx="171.6" cy="505.7" r="2.3"/></g>
<text class="c" y="368.7" font-size="13.9"><tspan x="78.2" textLength="19.6" lengthAdjust="spacingAndGlyphs">αβ</tspan><tspan x="98.3" textLength="48.9" lengthAdjust="spacingAndGlyphs">-deleted</tspan></text>
<path d="M110.9 379.2V457.3M106.60000000000001 386.0L110.9 379.2L115.2 386.0M106.60000000000001 450.5L110.9 457.3L115.2 450.5" fill="none" stroke="#1a1a1a" stroke-width="1.3" stroke-linejoin="miter"/>
<text class="c t" x="114.3" y="422.4" font-size="12" font-weight="bold" textLength="5.8" lengthAdjust="spacingAndGlyphs">γ</text>
<polygon points="227.5,506.7 229.0,503.5 230.5,499.2 232.0,492.5 233.4,485.9 234.9,474.1 236.4,460.8 237.9,448.8 239.3,437.1 240.8,427.3 242.3,416.9 243.8,406.8 245.2,398.9 246.7,392.6 248.2,390.0 249.7,390.3 251.1,393.0 252.6,399.5 254.1,408.0 255.6,414.8 257.1,419.2 258.5,423.1 260.0,428.4 261.5,431.2 262.9,434.6 264.4,436.8 265.9,440.4 267.4,439.7 268.9,448.0 270.3,447.5 271.8,449.3 273.3,454.1 274.8,456.7 276.2,453.9 277.7,457.1 279.2,461.2 280.6,462.7 282.1,467.2 283.6,467.0 285.1,470.4 286.6,470.2 288.0,469.9 289.5,474.2 291.0,473.1 292.4,478.8 293.9,478.8 295.4,482.4 296.9,480.8 298.4,481.5 299.8,483.4 301.3,485.0 302.8,482.9 304.2,483.9 305.7,490.5 307.2,486.2 308.7,493.4 310.1,492.1 311.6,491.7 313.1,492.1 314.6,495.7 316.1,496.2 317.5,495.8 319.0,499.1 320.5,499.7 321.9,496.9 323.4,496.3 324.9,498.4 326.4,498.3 327.9,498.3 329.3,499.1 330.8,499.7 332.3,504.2 333.8,502.1 335.2,503.3 336.7,501.7 336.7,505.5 335.2,504.7 333.8,504.3 332.3,500.4 330.8,500.3 329.3,497.2 327.9,500.4 326.4,502.2 324.9,501.9 323.4,502.0 321.9,502.6 320.5,501.5 319.0,498.9 317.5,499.5 316.1,499.5 314.6,492.6 313.1,498.1 311.6,498.6 310.1,492.0 308.7,493.0 307.2,495.1 305.7,488.6 304.2,488.4 302.8,487.2 301.3,485.2 299.8,484.1 298.4,479.8 296.9,479.1 295.4,479.9 293.9,476.8 292.4,475.9 291.0,474.8 289.5,477.7 288.0,473.7 286.6,472.4 285.1,470.4 283.6,471.2 282.1,470.7 280.6,466.8 279.2,461.2 277.7,466.9 276.2,456.9 274.8,455.6 273.3,457.7 271.8,451.0 270.3,455.6 268.9,453.5 267.4,447.6 265.9,444.1 264.4,445.2 262.9,441.7 261.5,438.0 260.0,433.1 258.5,431.5 257.1,426.8 255.6,423.4 254.1,419.0 252.6,416.1 251.1,415.7 249.7,416.6 248.2,421.1 246.7,429.7 245.2,438.6 243.8,446.6 242.3,456.8 240.8,467.7 239.3,474.1 237.9,481.7 236.4,487.2 234.9,492.4 233.4,496.4 232.0,498.4 230.5,503.8 229.0,506.1 227.5,507.8" fill="#cfcfcf"/>
<path d="M218.7 377.8V509.6" fill="none" stroke="#111" stroke-width="0.95"/>
<path d="M218.3 509.0H337.1" fill="none" stroke="#000" stroke-width="1.25"/>
<path d="M216.1 509.0H218.7M216.1 487.2H218.7M216.1 465.4H218.7M216.1 443.6H218.7M216.1 421.8H218.7M216.1 400.0H218.7M216.1 378.2H218.7M218.7 509.0V511.6M248.2 509.0V511.6M277.7 509.0V511.6M307.2 509.0V511.6M336.7 509.0V511.6" stroke="#000" stroke-width="0.8" fill="none"/>
<text class="s" x="215.7" y="511.3" font-size="6.1" text-anchor="end">0</text>
<text class="s" x="215.7" y="489.5" font-size="6.1" text-anchor="end">10</text>
<text class="s" x="215.7" y="467.7" font-size="6.1" text-anchor="end">20</text>
<text class="s" x="215.7" y="445.9" font-size="6.1" text-anchor="end">30</text>
<text class="s" x="215.7" y="424.1" font-size="6.1" text-anchor="end">40</text>
<text class="s" x="215.7" y="402.3" font-size="6.1" text-anchor="end">50</text>
<text class="s" x="215.7" y="380.5" font-size="6.1" text-anchor="end">60</text>
<text class="s" x="219.0" y="518.7" font-size="6.1" text-anchor="middle">0</text>
<text class="s" x="248.5" y="518.7" font-size="6.1" text-anchor="middle">10</text>
<text class="s" x="278.0" y="518.7" font-size="6.1" text-anchor="middle">20</text>
<text class="s" x="307.5" y="518.7" font-size="6.1" text-anchor="middle">30</text>
<text class="s" x="337.0" y="518.7" font-size="6.1" text-anchor="middle">40</text>
<text class="s" x="264.0" y="528.8" font-size="8.7" textLength="26.8" lengthAdjust="spacingAndGlyphs">Minutes</text>
<text class="s" transform="translate(206.1 442.9) rotate(-90)" font-size="8.6" text-anchor="middle">IIa; nM</text>
<polyline points="227.5,506.7 229.0,503.5 230.5,499.2 232.0,492.5 233.4,485.9 234.9,474.1 236.4,460.8 237.9,448.8 239.3,437.1 240.8,427.3 242.3,416.9 243.8,406.8 245.2,398.9 246.7,392.6 248.2,390.0 249.7,390.3 251.1,393.0 252.6,399.5 254.1,408.0 255.6,414.8 257.1,419.2 258.5,423.1 260.0,428.4 261.5,431.2 262.9,434.6 264.4,436.8 265.9,440.4 267.4,439.7 268.9,448.0 270.3,447.5 271.8,449.3 273.3,454.1 274.8,456.7 276.2,453.9 277.7,457.1 279.2,461.2 280.6,462.7 282.1,467.2 283.6,467.0 285.1,470.4 286.6,470.2 288.0,469.9 289.5,474.2 291.0,473.1 292.4,478.8 293.9,478.8 295.4,482.4 296.9,480.8 298.4,481.5 299.8,483.4 301.3,485.0 302.8,482.9 304.2,483.9 305.7,490.5 307.2,486.2 308.7,493.4 310.1,492.1 311.6,491.7 313.1,492.1 314.6,495.7 316.1,496.2 317.5,495.8 319.0,499.1 320.5,499.7 321.9,496.9 323.4,496.3 324.9,498.4 326.4,498.3 327.9,498.3 329.3,499.1 330.8,499.7 332.3,504.2 333.8,502.1 335.2,503.3 336.7,501.7" fill="none" stroke="#000" stroke-width="0.5"/>
<g fill="#000"><circle cx="227.5" cy="506.7" r="2.3"/><circle cx="229.0" cy="503.5" r="2.3"/><circle cx="230.5" cy="499.2" r="2.3"/><circle cx="232.0" cy="492.5" r="2.3"/><circle cx="233.4" cy="485.9" r="2.3"/><circle cx="234.9" cy="474.1" r="2.3"/><circle cx="236.4" cy="460.8" r="2.3"/><circle cx="237.9" cy="448.8" r="2.3"/><circle cx="239.3" cy="437.1" r="2.3"/><circle cx="240.8" cy="427.3" r="2.3"/><circle cx="242.3" cy="416.9" r="2.3"/><circle cx="243.8" cy="406.8" r="2.3"/><circle cx="245.2" cy="398.9" r="2.3"/><circle cx="246.7" cy="392.6" r="2.3"/><circle cx="248.2" cy="390.0" r="2.3"/><circle cx="249.7" cy="390.3" r="2.3"/><circle cx="251.1" cy="393.0" r="2.3"/><circle cx="252.6" cy="399.5" r="2.3"/><circle cx="254.1" cy="408.0" r="2.3"/><circle cx="255.6" cy="414.8" r="2.3"/><circle cx="257.1" cy="419.2" r="2.3"/><circle cx="258.5" cy="423.1" r="2.3"/><circle cx="260.0" cy="428.4" r="2.3"/><circle cx="261.5" cy="431.2" r="2.3"/><circle cx="262.9" cy="434.6" r="2.3"/><circle cx="264.4" cy="436.8" r="2.3"/><circle cx="265.9" cy="440.4" r="2.3"/><circle cx="267.4" cy="439.7" r="2.3"/><circle cx="268.9" cy="448.0" r="2.3"/><circle cx="270.3" cy="447.5" r="2.3"/><circle cx="271.8" cy="449.3" r="2.3"/><circle cx="273.3" cy="454.1" r="2.3"/><circle cx="274.8" cy="456.7" r="2.3"/><circle cx="276.2" cy="453.9" r="2.3"/><circle cx="277.7" cy="457.1" r="2.3"/><circle cx="279.2" cy="461.2" r="2.3"/><circle cx="280.6" cy="462.7" r="2.3"/><circle cx="282.1" cy="467.2" r="2.3"/><circle cx="283.6" cy="467.0" r="2.3"/><circle cx="285.1" cy="470.4" r="2.3"/><circle cx="286.6" cy="470.2" r="2.3"/><circle cx="288.0" cy="469.9" r="2.3"/><circle cx="289.5" cy="474.2" r="2.3"/><circle cx="291.0" cy="473.1" r="2.3"/><circle cx="292.4" cy="478.8" r="2.3"/><circle cx="293.9" cy="478.8" r="2.3"/><circle cx="295.4" cy="482.4" r="2.3"/><circle cx="296.9" cy="480.8" r="2.3"/><circle cx="298.4" cy="481.5" r="2.3"/><circle cx="299.8" cy="483.4" r="2.3"/><circle cx="301.3" cy="485.0" r="2.3"/><circle cx="302.8" cy="482.9" r="2.3"/><circle cx="304.2" cy="483.9" r="2.3"/><circle cx="305.7" cy="490.5" r="2.3"/><circle cx="307.2" cy="486.2" r="2.3"/><circle cx="308.7" cy="493.4" r="2.3"/><circle cx="310.1" cy="492.1" r="2.3"/><circle cx="311.6" cy="491.7" r="2.3"/><circle cx="313.1" cy="492.1" r="2.3"/><circle cx="314.6" cy="495.7" r="2.3"/><circle cx="316.1" cy="496.2" r="2.3"/><circle cx="317.5" cy="495.8" r="2.3"/><circle cx="319.0" cy="499.1" r="2.3"/><circle cx="320.5" cy="499.7" r="2.3"/><circle cx="321.9" cy="496.9" r="2.3"/><circle cx="323.4" cy="496.3" r="2.3"/><circle cx="324.9" cy="498.4" r="2.3"/><circle cx="326.4" cy="498.3" r="2.3"/><circle cx="327.9" cy="498.3" r="2.3"/><circle cx="329.3" cy="499.1" r="2.3"/><circle cx="330.8" cy="499.7" r="2.3"/><circle cx="332.3" cy="504.2" r="2.3"/><circle cx="333.8" cy="502.1" r="2.3"/><circle cx="335.2" cy="503.3" r="2.3"/><circle cx="336.7" cy="501.7" r="2.3"/></g>
<polyline points="227.5,507.8 229.0,506.1 230.5,503.8 232.0,498.4 233.4,496.4 234.9,492.4 236.4,487.2 237.9,481.7 239.3,474.1 240.8,467.7 242.3,456.8 243.8,446.6 245.2,438.6 246.7,429.7 248.2,421.1 249.7,416.6 251.1,415.7 252.6,416.1 254.1,419.0 255.6,423.4 257.1,426.8 258.5,431.5 260.0,433.1 261.5,438.0 262.9,441.7 264.4,445.2 265.9,444.1 267.4,447.6 268.9,453.5 270.3,455.6 271.8,451.0 273.3,457.7 274.8,455.6 276.2,456.9 277.7,466.9 279.2,461.2 280.6,466.8 282.1,470.7 283.6,471.2 285.1,470.4 286.6,472.4 288.0,473.7 289.5,477.7 291.0,474.8 292.4,475.9 293.9,476.8 295.4,479.9 296.9,479.1 298.4,479.8 299.8,484.1 301.3,485.2 302.8,487.2 304.2,488.4 305.7,488.6 307.2,495.1 308.7,493.0 310.1,492.0 311.6,498.6 313.1,498.1 314.6,492.6 316.1,499.5 317.5,499.5 319.0,498.9 320.5,501.5 321.9,502.6 323.4,502.0 324.9,501.9 326.4,502.2 327.9,500.4 329.3,497.2 330.8,500.3 332.3,500.4 333.8,504.3 335.2,504.7 336.7,505.5" fill="none" stroke="#000" stroke-width="0.5"/>
<g fill="#000"><circle cx="227.5" cy="507.8" r="2.3"/><circle cx="229.0" cy="506.1" r="2.3"/><circle cx="230.5" cy="503.8" r="2.3"/><circle cx="232.0" cy="498.4" r="2.3"/><circle cx="233.4" cy="496.4" r="2.3"/><circle cx="234.9" cy="492.4" r="2.3"/><circle cx="236.4" cy="487.2" r="2.3"/><circle cx="237.9" cy="481.7" r="2.3"/><circle cx="239.3" cy="474.1" r="2.3"/><circle cx="240.8" cy="467.7" r="2.3"/><circle cx="242.3" cy="456.8" r="2.3"/><circle cx="243.8" cy="446.6" r="2.3"/><circle cx="245.2" cy="438.6" r="2.3"/><circle cx="246.7" cy="429.7" r="2.3"/><circle cx="248.2" cy="421.1" r="2.3"/><circle cx="249.7" cy="416.6" r="2.3"/><circle cx="251.1" cy="415.7" r="2.3"/><circle cx="252.6" cy="416.1" r="2.3"/><circle cx="254.1" cy="419.0" r="2.3"/><circle cx="255.6" cy="423.4" r="2.3"/><circle cx="257.1" cy="426.8" r="2.3"/><circle cx="258.5" cy="431.5" r="2.3"/><circle cx="260.0" cy="433.1" r="2.3"/><circle cx="261.5" cy="438.0" r="2.3"/><circle cx="262.9" cy="441.7" r="2.3"/><circle cx="264.4" cy="445.2" r="2.3"/><circle cx="265.9" cy="444.1" r="2.3"/><circle cx="267.4" cy="447.6" r="2.3"/><circle cx="268.9" cy="453.5" r="2.3"/><circle cx="270.3" cy="455.6" r="2.3"/><circle cx="271.8" cy="451.0" r="2.3"/><circle cx="273.3" cy="457.7" r="2.3"/><circle cx="274.8" cy="455.6" r="2.3"/><circle cx="276.2" cy="456.9" r="2.3"/><circle cx="277.7" cy="466.9" r="2.3"/><circle cx="279.2" cy="461.2" r="2.3"/><circle cx="280.6" cy="466.8" r="2.3"/><circle cx="282.1" cy="470.7" r="2.3"/><circle cx="283.6" cy="471.2" r="2.3"/><circle cx="285.1" cy="470.4" r="2.3"/><circle cx="286.6" cy="472.4" r="2.3"/><circle cx="288.0" cy="473.7" r="2.3"/><circle cx="289.5" cy="477.7" r="2.3"/><circle cx="291.0" cy="474.8" r="2.3"/><circle cx="292.4" cy="475.9" r="2.3"/><circle cx="293.9" cy="476.8" r="2.3"/><circle cx="295.4" cy="479.9" r="2.3"/><circle cx="296.9" cy="479.1" r="2.3"/><circle cx="298.4" cy="479.8" r="2.3"/><circle cx="299.8" cy="484.1" r="2.3"/><circle cx="301.3" cy="485.2" r="2.3"/><circle cx="302.8" cy="487.2" r="2.3"/><circle cx="304.2" cy="488.4" r="2.3"/><circle cx="305.7" cy="488.6" r="2.3"/><circle cx="307.2" cy="495.1" r="2.3"/><circle cx="308.7" cy="493.0" r="2.3"/><circle cx="310.1" cy="492.0" r="2.3"/><circle cx="311.6" cy="498.6" r="2.3"/><circle cx="313.1" cy="498.1" r="2.3"/><circle cx="314.6" cy="492.6" r="2.3"/><circle cx="316.1" cy="499.5" r="2.3"/><circle cx="317.5" cy="499.5" r="2.3"/><circle cx="319.0" cy="498.9" r="2.3"/><circle cx="320.5" cy="501.5" r="2.3"/><circle cx="321.9" cy="502.6" r="2.3"/><circle cx="323.4" cy="502.0" r="2.3"/><circle cx="324.9" cy="501.9" r="2.3"/><circle cx="326.4" cy="502.2" r="2.3"/><circle cx="327.9" cy="500.4" r="2.3"/><circle cx="329.3" cy="497.2" r="2.3"/><circle cx="330.8" cy="500.3" r="2.3"/><circle cx="332.3" cy="500.4" r="2.3"/><circle cx="333.8" cy="504.3" r="2.3"/><circle cx="335.2" cy="504.7" r="2.3"/><circle cx="336.7" cy="505.5" r="2.3"/></g>
<text class="c" y="368.7" font-size="13.9"><tspan x="243.2" textLength="16.2" lengthAdjust="spacingAndGlyphs">βγ</tspan><tspan x="259.9" textLength="49.5" lengthAdjust="spacingAndGlyphs">-deleted</tspan></text>
<path d="M275.3 390.7V423.5M271.0 397.5L275.3 390.7L279.6 397.5M271.0 416.7L275.3 423.5L279.6 416.7" fill="none" stroke="#1a1a1a" stroke-width="1.3" stroke-linejoin="miter"/>
<text class="c t" x="280.3" y="407.9" font-size="13.6" font-weight="bold" textLength="8.4" lengthAdjust="spacingAndGlyphs">α</text>
<polygon points="385.6,506.9 387.1,502.8 388.6,499.3 390.0,493.6 391.5,486.8 393.0,479.6 394.4,472.3 395.9,465.0 397.4,458.1 398.9,451.5 400.4,444.6 401.8,438.6 403.3,434.5 404.8,431.5 406.2,431.0 407.7,432.7 409.2,435.8 410.7,440.6 412.2,442.9 413.6,445.7 415.1,449.3 416.6,452.9 418.1,456.3 419.5,459.5 421.0,462.6 422.5,465.4 424.0,467.7 425.4,469.8 426.9,472.1 428.4,474.0 429.9,475.6 431.3,477.3 432.8,478.8 434.3,479.9 435.8,480.3 437.2,482.1 438.7,482.8 440.2,484.2 441.7,484.4 443.1,488.1 444.6,489.2 446.1,488.5 447.6,488.6 449.0,490.1 450.5,490.4 452.0,492.7 453.5,493.9 454.9,494.4 456.4,494.0 457.9,494.9 459.4,496.5 460.8,496.2 462.3,497.1 463.8,496.8 465.2,497.8 466.7,497.1 468.2,497.8 469.7,497.7 471.2,498.7 472.6,499.3 474.1,499.1 475.6,499.9 477.1,499.9 478.5,500.3 480.0,499.7 481.5,501.0 483.0,500.2 484.4,500.2 485.9,501.5 487.4,499.8 488.9,499.3 490.3,500.3 491.8,502.6 491.8,505.2 490.3,503.4 488.9,504.0 487.4,504.0 485.9,504.2 484.4,505.8 483.0,505.0 481.5,504.7 480.0,503.9 478.5,503.6 477.1,503.0 475.6,502.6 474.1,502.4 472.6,501.3 471.2,501.2 469.7,501.9 468.2,500.2 466.7,499.2 465.2,500.2 463.8,501.0 462.3,500.1 460.8,498.1 459.4,497.6 457.9,498.5 456.4,497.2 454.9,496.0 453.5,493.7 452.0,494.8 450.5,494.5 449.0,492.4 447.6,493.3 446.1,492.4 444.6,490.5 443.1,488.0 441.7,488.5 440.2,488.3 438.7,487.9 437.2,484.9 435.8,484.5 434.3,483.7 432.8,482.1 431.3,480.6 429.9,478.9 428.4,477.3 426.9,475.4 425.4,473.1 424.0,471.0 422.5,468.7 421.0,465.8 419.5,462.8 418.1,459.6 416.6,456.2 415.1,452.6 413.6,449.0 412.2,446.1 410.7,444.2 409.2,443.7 407.7,444.5 406.2,446.2 404.8,449.7 403.3,454.1 401.8,458.6 400.4,464.2 398.9,468.8 397.4,474.2 395.9,479.9 394.4,484.5 393.0,489.2 391.5,494.4 390.0,498.6 388.6,501.8 387.1,504.9 385.6,507.2" fill="#cfcfcf"/>
<path d="M373.8 375.7V507.8" fill="none" stroke="#111" stroke-width="0.95"/>
<path d="M373.4 507.2H492.2" fill="none" stroke="#000" stroke-width="1.25"/>
<path d="M371.2 507.2H373.8M371.2 485.3H373.8M371.2 463.5H373.8M371.2 441.6H373.8M371.2 419.8H373.8M371.2 397.9H373.8M371.2 376.1H373.8M373.8 507.2V509.8M403.3 507.2V509.8M432.8 507.2V509.8M462.3 507.2V509.8M491.8 507.2V509.8" stroke="#000" stroke-width="0.8" fill="none"/>
<text class="s" x="370.8" y="509.5" font-size="6.1" text-anchor="end">0</text>
<text class="s" x="370.8" y="487.6" font-size="6.1" text-anchor="end">10</text>
<text class="s" x="370.8" y="465.8" font-size="6.1" text-anchor="end">20</text>
<text class="s" x="370.8" y="443.9" font-size="6.1" text-anchor="end">30</text>
<text class="s" x="370.8" y="422.1" font-size="6.1" text-anchor="end">40</text>
<text class="s" x="370.8" y="400.2" font-size="6.1" text-anchor="end">50</text>
<text class="s" x="370.8" y="378.4" font-size="6.1" text-anchor="end">60</text>
<text class="s" x="374.1" y="516.9" font-size="6.1" text-anchor="middle">0</text>
<text class="s" x="403.6" y="516.9" font-size="6.1" text-anchor="middle">10</text>
<text class="s" x="433.1" y="516.9" font-size="6.1" text-anchor="middle">20</text>
<text class="s" x="462.6" y="516.9" font-size="6.1" text-anchor="middle">30</text>
<text class="s" x="492.1" y="516.9" font-size="6.1" text-anchor="middle">40</text>
<text class="s" x="419.1" y="527.0" font-size="8.7" textLength="26.8" lengthAdjust="spacingAndGlyphs">Minutes</text>
<text class="s" transform="translate(361.2 440.9) rotate(-90)" font-size="8.6" text-anchor="middle">IIa; nM</text>
<polyline points="385.6,506.9 387.1,502.8 388.6,499.3 390.0,493.6 391.5,486.8 393.0,479.6 394.4,472.3 395.9,465.0 397.4,458.1 398.9,451.5 400.4,444.6 401.8,438.6 403.3,434.5 404.8,431.5 406.2,431.0 407.7,432.7 409.2,435.8 410.7,440.6 412.2,442.9 413.6,445.7 415.1,449.3 416.6,452.9 418.1,456.3 419.5,459.5 421.0,462.6 422.5,465.4 424.0,467.7 425.4,469.8 426.9,472.1 428.4,474.0 429.9,475.6 431.3,477.3 432.8,478.8 434.3,479.9 435.8,480.3 437.2,482.1 438.7,482.8 440.2,484.2 441.7,484.4 443.1,488.1 444.6,489.2 446.1,488.5 447.6,488.6 449.0,490.1 450.5,490.4 452.0,492.7 453.5,493.9 454.9,494.4 456.4,494.0 457.9,494.9 459.4,496.5 460.8,496.2 462.3,497.1 463.8,496.8 465.2,497.8 466.7,497.1 468.2,497.8 469.7,497.7 471.2,498.7 472.6,499.3 474.1,499.1 475.6,499.9 477.1,499.9 478.5,500.3 480.0,499.7 481.5,501.0 483.0,500.2 484.4,500.2 485.9,501.5 487.4,499.8 488.9,499.3 490.3,500.3 491.8,502.6" fill="none" stroke="#000" stroke-width="0.5"/>
<g fill="#000"><circle cx="385.6" cy="506.9" r="2.3"/><circle cx="387.1" cy="502.8" r="2.3"/><circle cx="388.6" cy="499.3" r="2.3"/><circle cx="390.0" cy="493.6" r="2.3"/><circle cx="391.5" cy="486.8" r="2.3"/><circle cx="393.0" cy="479.6" r="2.3"/><circle cx="394.4" cy="472.3" r="2.3"/><circle cx="395.9" cy="465.0" r="2.3"/><circle cx="397.4" cy="458.1" r="2.3"/><circle cx="398.9" cy="451.5" r="2.3"/><circle cx="400.4" cy="444.6" r="2.3"/><circle cx="401.8" cy="438.6" r="2.3"/><circle cx="403.3" cy="434.5" r="2.3"/><circle cx="404.8" cy="431.5" r="2.3"/><circle cx="406.2" cy="431.0" r="2.3"/><circle cx="407.7" cy="432.7" r="2.3"/><circle cx="409.2" cy="435.8" r="2.3"/><circle cx="410.7" cy="440.6" r="2.3"/><circle cx="412.2" cy="442.9" r="2.3"/><circle cx="413.6" cy="445.7" r="2.3"/><circle cx="415.1" cy="449.3" r="2.3"/><circle cx="416.6" cy="452.9" r="2.3"/><circle cx="418.1" cy="456.3" r="2.3"/><circle cx="419.5" cy="459.5" r="2.3"/><circle cx="421.0" cy="462.6" r="2.3"/><circle cx="422.5" cy="465.4" r="2.3"/><circle cx="424.0" cy="467.7" r="2.3"/><circle cx="425.4" cy="469.8" r="2.3"/><circle cx="426.9" cy="472.1" r="2.3"/><circle cx="428.4" cy="474.0" r="2.3"/><circle cx="429.9" cy="475.6" r="2.3"/><circle cx="431.3" cy="477.3" r="2.3"/><circle cx="432.8" cy="478.8" r="2.3"/><circle cx="434.3" cy="479.9" r="2.3"/><circle cx="435.8" cy="480.3" r="2.3"/><circle cx="437.2" cy="482.1" r="2.3"/><circle cx="438.7" cy="482.8" r="2.3"/><circle cx="440.2" cy="484.2" r="2.3"/><circle cx="441.7" cy="484.4" r="2.3"/><circle cx="443.1" cy="488.1" r="2.3"/><circle cx="444.6" cy="489.2" r="2.3"/><circle cx="446.1" cy="488.5" r="2.3"/><circle cx="447.6" cy="488.6" r="2.3"/><circle cx="449.0" cy="490.1" r="2.3"/><circle cx="450.5" cy="490.4" r="2.3"/><circle cx="452.0" cy="492.7" r="2.3"/><circle cx="453.5" cy="493.9" r="2.3"/><circle cx="454.9" cy="494.4" r="2.3"/><circle cx="456.4" cy="494.0" r="2.3"/><circle cx="457.9" cy="494.9" r="2.3"/><circle cx="459.4" cy="496.5" r="2.3"/><circle cx="460.8" cy="496.2" r="2.3"/><circle cx="462.3" cy="497.1" r="2.3"/><circle cx="463.8" cy="496.8" r="2.3"/><circle cx="465.2" cy="497.8" r="2.3"/><circle cx="466.7" cy="497.1" r="2.3"/><circle cx="468.2" cy="497.8" r="2.3"/><circle cx="469.7" cy="497.7" r="2.3"/><circle cx="471.2" cy="498.7" r="2.3"/><circle cx="472.6" cy="499.3" r="2.3"/><circle cx="474.1" cy="499.1" r="2.3"/><circle cx="475.6" cy="499.9" r="2.3"/><circle cx="477.1" cy="499.9" r="2.3"/><circle cx="478.5" cy="500.3" r="2.3"/><circle cx="480.0" cy="499.7" r="2.3"/><circle cx="481.5" cy="501.0" r="2.3"/><circle cx="483.0" cy="500.2" r="2.3"/><circle cx="484.4" cy="500.2" r="2.3"/><circle cx="485.9" cy="501.5" r="2.3"/><circle cx="487.4" cy="499.8" r="2.3"/><circle cx="488.9" cy="499.3" r="2.3"/><circle cx="490.3" cy="500.3" r="2.3"/><circle cx="491.8" cy="502.6" r="2.3"/></g>
<polyline points="385.6,507.2 387.1,504.9 388.6,501.8 390.0,498.6 391.5,494.4 393.0,489.2 394.4,484.5 395.9,479.9 397.4,474.2 398.9,468.8 400.4,464.2 401.8,458.6 403.3,454.1 404.8,449.7 406.2,446.2 407.7,444.5 409.2,443.7 410.7,444.2 412.2,446.1 413.6,449.0 415.1,452.6 416.6,456.2 418.1,459.6 419.5,462.8 421.0,465.8 422.5,468.7 424.0,471.0 425.4,473.1 426.9,475.4 428.4,477.3 429.9,478.9 431.3,480.6 432.8,482.1 434.3,483.7 435.8,484.5 437.2,484.9 438.7,487.9 440.2,488.3 441.7,488.5 443.1,488.0 444.6,490.5 446.1,492.4 447.6,493.3 449.0,492.4 450.5,494.5 452.0,494.8 453.5,493.7 454.9,496.0 456.4,497.2 457.9,498.5 459.4,497.6 460.8,498.1 462.3,500.1 463.8,501.0 465.2,500.2 466.7,499.2 468.2,500.2 469.7,501.9 471.2,501.2 472.6,501.3 474.1,502.4 475.6,502.6 477.1,503.0 478.5,503.6 480.0,503.9 481.5,504.7 483.0,505.0 484.4,505.8 485.9,504.2 487.4,504.0 488.9,504.0 490.3,503.4 491.8,505.2" fill="none" stroke="#000" stroke-width="0.5"/>
<g fill="#000"><circle cx="385.6" cy="507.2" r="2.3"/><circle cx="387.1" cy="504.9" r="2.3"/><circle cx="388.6" cy="501.8" r="2.3"/><circle cx="390.0" cy="498.6" r="2.3"/><circle cx="391.5" cy="494.4" r="2.3"/><circle cx="393.0" cy="489.2" r="2.3"/><circle cx="394.4" cy="484.5" r="2.3"/><circle cx="395.9" cy="479.9" r="2.3"/><circle cx="397.4" cy="474.2" r="2.3"/><circle cx="398.9" cy="468.8" r="2.3"/><circle cx="400.4" cy="464.2" r="2.3"/><circle cx="401.8" cy="458.6" r="2.3"/><circle cx="403.3" cy="454.1" r="2.3"/><circle cx="404.8" cy="449.7" r="2.3"/><circle cx="406.2" cy="446.2" r="2.3"/><circle cx="407.7" cy="444.5" r="2.3"/><circle cx="409.2" cy="443.7" r="2.3"/><circle cx="410.7" cy="444.2" r="2.3"/><circle cx="412.2" cy="446.1" r="2.3"/><circle cx="413.6" cy="449.0" r="2.3"/><circle cx="415.1" cy="452.6" r="2.3"/><circle cx="416.6" cy="456.2" r="2.3"/><circle cx="418.1" cy="459.6" r="2.3"/><circle cx="419.5" cy="462.8" r="2.3"/><circle cx="421.0" cy="465.8" r="2.3"/><circle cx="422.5" cy="468.7" r="2.3"/><circle cx="424.0" cy="471.0" r="2.3"/><circle cx="425.4" cy="473.1" r="2.3"/><circle cx="426.9" cy="475.4" r="2.3"/><circle cx="428.4" cy="477.3" r="2.3"/><circle cx="429.9" cy="478.9" r="2.3"/><circle cx="431.3" cy="480.6" r="2.3"/><circle cx="432.8" cy="482.1" r="2.3"/><circle cx="434.3" cy="483.7" r="2.3"/><circle cx="435.8" cy="484.5" r="2.3"/><circle cx="437.2" cy="484.9" r="2.3"/><circle cx="438.7" cy="487.9" r="2.3"/><circle cx="440.2" cy="488.3" r="2.3"/><circle cx="441.7" cy="488.5" r="2.3"/><circle cx="443.1" cy="488.0" r="2.3"/><circle cx="444.6" cy="490.5" r="2.3"/><circle cx="446.1" cy="492.4" r="2.3"/><circle cx="447.6" cy="493.3" r="2.3"/><circle cx="449.0" cy="492.4" r="2.3"/><circle cx="450.5" cy="494.5" r="2.3"/><circle cx="452.0" cy="494.8" r="2.3"/><circle cx="453.5" cy="493.7" r="2.3"/><circle cx="454.9" cy="496.0" r="2.3"/><circle cx="456.4" cy="497.2" r="2.3"/><circle cx="457.9" cy="498.5" r="2.3"/><circle cx="459.4" cy="497.6" r="2.3"/><circle cx="460.8" cy="498.1" r="2.3"/><circle cx="462.3" cy="500.1" r="2.3"/><circle cx="463.8" cy="501.0" r="2.3"/><circle cx="465.2" cy="500.2" r="2.3"/><circle cx="466.7" cy="499.2" r="2.3"/><circle cx="468.2" cy="500.2" r="2.3"/><circle cx="469.7" cy="501.9" r="2.3"/><circle cx="471.2" cy="501.2" r="2.3"/><circle cx="472.6" cy="501.3" r="2.3"/><circle cx="474.1" cy="502.4" r="2.3"/><circle cx="475.6" cy="502.6" r="2.3"/><circle cx="477.1" cy="503.0" r="2.3"/><circle cx="478.5" cy="503.6" r="2.3"/><circle cx="480.0" cy="503.9" r="2.3"/><circle cx="481.5" cy="504.7" r="2.3"/><circle cx="483.0" cy="505.0" r="2.3"/><circle cx="484.4" cy="505.8" r="2.3"/><circle cx="485.9" cy="504.2" r="2.3"/><circle cx="487.4" cy="504.0" r="2.3"/><circle cx="488.9" cy="504.0" r="2.3"/><circle cx="490.3" cy="503.4" r="2.3"/><circle cx="491.8" cy="505.2" r="2.3"/></g>
<text class="c" y="368.7" font-size="13.9"><tspan x="390" textLength="17.3" lengthAdjust="spacingAndGlyphs">αγ</tspan><tspan x="408" textLength="49.3" lengthAdjust="spacingAndGlyphs">-deleted</tspan></text>
<path d="M427.5 424V445.1M423.2 430.8L427.5 424L431.8 430.8M423.2 438.3L427.5 445.1L431.8 438.3" fill="none" stroke="#1a1a1a" stroke-width="1.3" stroke-linejoin="miter"/>
<text class="c t" x="436" y="435.5" font-size="12" font-weight="bold" textLength="6.9" lengthAdjust="spacingAndGlyphs">β</text>
</svg></body></html>
